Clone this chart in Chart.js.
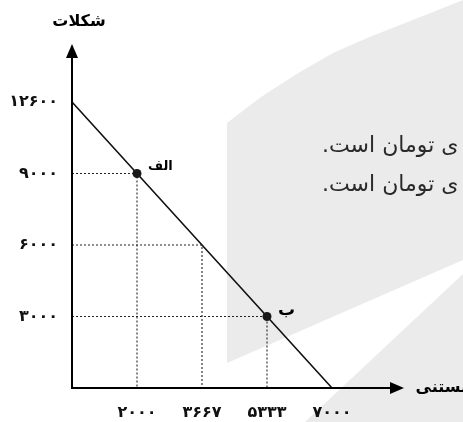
<!DOCTYPE html>
<html>
<head>
<meta charset="utf-8">
<script src="https://cdn.jsdelivr.net/npm/chart.js@4/dist/chart.umd.min.js"></script>
<style>
  html, body { margin: 0; padding: 0; background: #ffffff; }
  #wrap { width: 463px; height: 422px; }
</style>
</head>
<body>
<div id="wrap"><canvas id="c" width="463" height="422"></canvas></div>
<script>
// ---- data ----
const iceCream = [0, 2000, 3667, 5333, 7000];        // x axis (بستنی)
const chocolate = [12600, 9000, 6000, 3000, 0];      // y axis (شکلات), frontier values
const markedX = [2000, 5333];
const markedY = [9000, 3000];
const markedLabels = ['الف', 'ب'];
const guideX = [2000, 3667, 5333];
const guideY = [9000, 6000, 3000];
const xTitle = 'بستنی';
const yTitle = 'شکلات';
const noteLines = ['ی تومان است.', 'ی تومان است.'];

const faDigits = '۰۱۲۳۴۵۶۷۸۹';
const toFa = s => String(s).replace(/[0-9]/g, d => faDigits[+d]);

const xLabels = iceCream.map(String);
const yLabels = chocolate.map(String);

const frontier = iceCream.map((v, i) => ({ x: String(v), y: String(chocolate[i]) }));
const marked = markedX.map((v, i) => ({ x: String(v), y: String(markedY[i]) }));
const guides = guideX.map((v, i) => ([
  { x: '0', y: String(guideY[i]) },
  { x: String(v), y: String(guideY[i]) },
  { x: String(v), y: '0' }
]));

const FONT = "'DejaVu Sans', sans-serif";

const decor = {
  id: 'decor',
  beforeDraw(chart) {
    const ctx = chart.ctx;
    ctx.save();
    ctx.fillStyle = '#ffffff';
    ctx.fillRect(0, 0, chart.width, chart.height);
    // watermark shapes
    ctx.fillStyle = '#ebebeb';
    ctx.beginPath();
    ctx.moveTo(227, 123);
    ctx.lineTo(257, 100);
    ctx.lineTo(267, 93);
    ctx.lineTo(300, 72);
    ctx.lineTo(333, 53);
    ctx.lineTo(367, 38);
    ctx.lineTo(400, 25);
    ctx.lineTo(433, 12);
    ctx.lineTo(463, 0);
    ctx.lineTo(463, 260);
    ctx.lineTo(227, 363);
    ctx.closePath();
    ctx.fill();
    ctx.beginPath();
    ctx.moveTo(463, 274);
    ctx.lineTo(305, 422);
    ctx.lineTo(463, 422);
    ctx.closePath();
    ctx.fill();
    // watermark text fragment (sentence continues beyond the right edge)
    ctx.fillStyle = '#2a2a2a';
    ctx.font = "22px " + FONT;
    ctx.direction = 'rtl';
    ctx.textAlign = 'left';
    ctx.textBaseline = 'middle';
    ctx.fillText(noteLines[0], 322, 146);
    ctx.fillText(noteLines[1], 322, 185);
    ctx.restore();
  },
  afterDraw(chart) {
    const ctx = chart.ctx;
    const a = chart.chartArea;
    const x0 = a.left, y0 = a.bottom;
    ctx.save();
    ctx.strokeStyle = '#000';
    ctx.fillStyle = '#000';
    ctx.lineWidth = 2;
    // y axis
    const yTop = a.top - 58;
    ctx.beginPath();
    ctx.moveTo(x0, y0 + 1);
    ctx.lineTo(x0, yTop + 10);
    ctx.stroke();
    ctx.beginPath();
    ctx.moveTo(x0, yTop);
    ctx.lineTo(x0 - 6, yTop + 14);
    ctx.lineTo(x0 + 6, yTop + 14);
    ctx.closePath();
    ctx.fill();
    // x axis
    const xEnd = a.right + 72;
    ctx.beginPath();
    ctx.moveTo(x0 - 1, y0);
    ctx.lineTo(xEnd - 10, y0);
    ctx.stroke();
    ctx.beginPath();
    ctx.moveTo(xEnd, y0);
    ctx.lineTo(xEnd - 14, y0 - 6);
    ctx.lineTo(xEnd - 14, y0 + 6);
    ctx.closePath();
    ctx.fill();
    // axis titles
    ctx.font = "bold 16px " + FONT;
    ctx.textBaseline = 'middle';
    ctx.textAlign = 'center';
    ctx.fillText(yTitle, x0 + 7, 22);
    ctx.textAlign = 'right';
    ctx.fillText(xTitle, 467, y0);
    // point labels
    const xs = chart.scales.x, ys = chart.scales.y;
    ctx.textAlign = 'left';
    markedLabels.forEach((lab, i) => {
      const px = xs.getPixelForValue(xLabels.indexOf(String(markedX[i])));
      const py = ys.getPixelForValue(yLabels.indexOf(String(markedY[i])));
      ctx.font = (i === 0 ? "bold 13px " : "bold 17px ") + FONT;
      ctx.fillText(lab, px + 11, py - (i === 0 ? 7 : 6));
    });
    ctx.restore();
  }
};

new Chart(document.getElementById('c'), {
  type: 'line',
  data: {
    datasets: [
      {
        data: marked,
        showLine: false,
        pointRadius: 4.5,
        pointBackgroundColor: '#1a1a1a',
        pointBorderColor: '#1a1a1a',
        pointBorderWidth: 0,
        clip: false
      },
      {
        data: frontier,
        borderColor: '#111',
        borderWidth: 1.6,
        pointRadius: 0,
        tension: 0,
        clip: false
      },
      ...guides.map(g => ({
        data: g,
        borderColor: '#222',
        borderWidth: 1.1,
        borderDash: [2, 2],
        pointRadius: 0,
        tension: 0,
        clip: false
      }))
    ]
  },
  options: {
    responsive: false,
    animation: false,
    events: [],
    layout: { padding: { left: 0, right: 131, top: 102, bottom: 0 } },
    plugins: { legend: { display: false }, tooltip: { enabled: false } },
    scales: {
      x: {
        type: 'category',
        labels: xLabels,
        offset: false,
        grid: { display: false, drawTicks: false },
        border: { display: false },
        afterFit: s => { s.height = 34; },
        ticks: {
          autoSkip: false,
          maxRotation: 0,
          padding: 15,
          color: '#111',
          font: { family: FONT, size: 16, weight: 'bold' },
          callback: function (v) { const l = this.getLabelForValue(v); return l === '0' ? '' : toFa(l); }
        }
      },
      y: {
        type: 'category',
        labels: yLabels,
        offset: false,
        grid: { display: false, drawTicks: false },
        border: { display: false },
        afterFit: s => { s.width = 72; },
        ticks: {
          autoSkip: false,
          padding: 14,
          color: '#111',
          font: { family: FONT, size: 16, weight: 'bold' },
          callback: function (v) { const l = this.getLabelForValue(v); return l === '0' ? '' : toFa(l); }
        }
      }
    }
  },
  plugins: [decor]
});
</script>
</body>
</html>
